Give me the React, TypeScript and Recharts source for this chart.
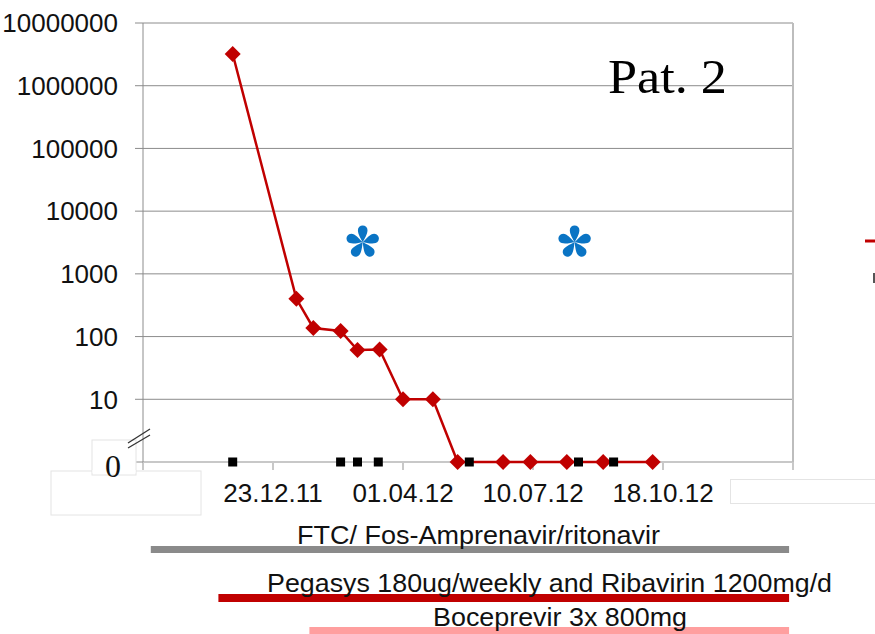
import React from 'react';
import { ComposedChart, BarChart, Bar, Line, Scatter, XAxis, YAxis, CartesianGrid, ReferenceLine } from 'recharts';

// days counted from 14.09.11 (left edge of the x axis)
const sampleDays = [69, 118, 131, 152, 165, 182, 200, 223, 242, 277, 298, 326, 354, 392];
const viralLoad = [3200000, 400, 137, 123, 61, 62, 10, 10, 0, 0, 0, 0, 0, 0];
const markerDays = [69, 152, 165, 181, 251, 335, 362];
const starDays = [169, 332];
const starLevel = [3200, 3200];

const dayTicks = [0, 100, 200, 300, 400, 500];
const dayLabels = ['', '23.12.11', '01.04.12', '10.07.12', '18.10.12', ''];
const logTicks = [1, 10, 100, 1000, 10000, 100000, 1000000, 10000000];

const therapyNames = [
  'FTC/ Fos-Amprenavir/ritonavir',
  'Pegasys 180ug/weekly and Ribavirin 1200mg/d',
  'Boceprevir 3x 800mg',
];
const therapyStart = [6, 58, 128];
const therapyEnd = [497, 497, 497];

const SANS = 'Liberation Sans, Arial, sans-serif';
const SERIF = 'Liberation Serif, Times New Roman, serif';
const RED = '#c00000';
const GRID = '#8c8c8c';
const AXIS = '#c8c8c8';
const therapyStyle = [
  { color: '#8a8a8a', top: 546, h: 7, textY: 544, textX: 297, textW: 363 },
  { color: '#c00000', top: 594, h: 8, textY: 592, textX: 267, textW: 565 },
  { color: '#ff9f9f', top: 627, h: 8, textY: 626, textX: 433, textW: 254 },
];

// log axis cannot show 0, so "0" results sit on the bottom line (1)
const lineData = sampleDays.map((d, i) => ({ day: d, vl: Math.max(viralLoad[i], 1) }));
const markerData = markerDays.map((d) => ({ day: d, vl: 1 }));
const starData = starDays.map((d, i) => ({ day: d, vl: starLevel[i] }));

const Diamond = (props: any) => {
  const { cx, cy, index } = props;
  if (cx == null || cy == null) return <g key={index} />;
  const r = 8;
  return <path key={index} d={`M${cx},${cy - r}L${cx + r},${cy}L${cx},${cy + r}L${cx - r},${cy}Z`} fill={RED} />;
};

const Square = (props: any) => {
  const { cx, cy } = props;
  return <rect x={cx - 4.5} y={cy - 4.5} width={9} height={9} fill="#000" />;
};

const Star = (props: any) => {
  const { cx, cy } = props;
  const petal = 'M0,0 C-1.5,-3 -4.8,-8 -4.8,-12 A4.8,4.8 0 0 1 4.8,-12 C4.8,-8 1.5,-3 0,0 Z';
  return (
    <g transform={`translate(${cx},${cy})`}>
      {[0, 72, 144, 216, 288].map((a) => (
        <path key={a} d={petal} transform={`rotate(${a})`} fill="#0a74c4" />
      ))}
    </g>
  );
};

// bottom grid line doubles as the light x axis line, so the series stays above it
const GridLine = (p: any) => {
  const bottom = p.index === 0;
  return (
    <line key={`g${p.index}`} x1={p.x1} y1={p.y1} x2={p.x2} y2={p.y2}
      stroke={bottom ? AXIS : GRID} strokeWidth={bottom ? 2 : 1} />
  );
};

const YTick = (props: any) => {
  const { x, y, payload } = props;
  if (payload.value === 1) {
    return (
      <g>
        <rect x={x - 67} y={y + 9} width={150} height={44} fill="#fff" stroke="#e4e4e4" />
        <rect x={x - 26} y={y - 22} width={44} height={35} fill="#fff" stroke="#e4e4e4" />
        <rect x={x - 25.5} y={y + 8} width={43} height={3} fill="#fff" />
        <text x={x - 5} y={y + 15} textAnchor="middle" style={{ fontFamily: SERIF }} fontSize={32} fill="#111">0</text>
        <line x1={x + 10} y1={y - 19} x2={x + 32} y2={y - 33} stroke="#333" strokeWidth={1.3} />
        <line x1={x + 10} y1={y - 14} x2={x + 32} y2={y - 27} stroke="#333" strokeWidth={1.3} />
      </g>
    );
  }
  return (
    <text x={x} y={y} dy="0.355em" textAnchor="end" fontFamily={SANS} fontSize={26} fill="#111">
      {String(payload.value)}
    </text>
  );
};

const TherapyBar = ({ i }: { i: number }) => {
  const s = therapyStyle[i];
  const data = [{ name: therapyNames[i], range: [therapyStart[i], therapyEnd[i]] }];
  return (
    <div style={{ position: 'absolute', left: 0, top: s.top }}>
      <BarChart width={875} height={s.h} data={data} layout="vertical" barCategoryGap={0}
        margin={{ top: 0, right: 82, bottom: 0, left: 143 }}>
        <XAxis type="number" domain={[0, 500]} hide />
        <YAxis type="category" dataKey="name" hide />
        <Bar dataKey="range" fill={s.color} isAnimationActive={false} />
      </BarChart>
    </div>
  );
};

export default function App() {
  return (
    <div style={{ position: 'absolute', left: 0, top: 0, width: 875, height: 634, overflow: 'hidden', background: '#fff' }}>
      <ComposedChart width={875} height={520} data={lineData} margin={{ top: 23, right: 82, bottom: 8, left: 8 }}>
        <CartesianGrid vertical={false} horizontal={GridLine} />
        <XAxis type="number" dataKey="day" domain={[0, 500]} ticks={dayTicks} interval={0} height={50}
          tickFormatter={(v: number) => dayLabels[dayTicks.indexOf(v)] ?? ''}
          tick={{ fontFamily: SANS, fontSize: 26, fill: '#111' }}
          tickSize={8} tickMargin={14} tickLine={{ stroke: AXIS, strokeWidth: 2 }}
          axisLine={false} />
        <YAxis type="number" scale="log" domain={[1, 10000000]} ticks={logTicks} interval={0}
          width={135} tick={YTick} tickSize={8} tickMargin={17}
          tickLine={{ stroke: GRID }} axisLine={{ stroke: GRID }} />
        <ReferenceLine x={500} stroke="#bdbdbd" strokeWidth={2} />
        <Line data={lineData} dataKey="vl" stroke={RED} strokeWidth={2.5} dot={Diamond} activeDot={false}
          isAnimationActive={false} />
        <Scatter data={markerData} dataKey="vl" shape={Square} isAnimationActive={false} />
        <Scatter data={starData} dataKey="vl" shape={Star} isAnimationActive={false} />
      </ComposedChart>

      {[0, 1, 2].map((i) => <TherapyBar key={i} i={i} />)}

      <svg width={875} height={634} style={{ position: 'absolute', left: 0, top: 0, pointerEvents: 'none' }}>
        <text x={608} y={93} fontFamily={SERIF} fontSize={48} fill="#000" textLength={119} lengthAdjust="spacingAndGlyphs">Pat. 2</text>
        <rect x={730.5} y={479.5} width={150} height={24} fill="#fff" stroke="#e4e4e4" />
        <line x1={865} y1={241} x2={876} y2={241} stroke={RED} strokeWidth={3} />
        <line x1={874} y1={273} x2={874} y2={283} stroke="#555" strokeWidth={2} />
        {therapyNames.map((t, i) => (
          <text key={t} x={therapyStyle[i].textX} y={therapyStyle[i].textY} fontFamily={SANS} fontSize={26} fill="#111"
            textLength={therapyStyle[i].textW} lengthAdjust="spacingAndGlyphs">{t}</text>
        ))}
      </svg>
    </div>
  );
}
